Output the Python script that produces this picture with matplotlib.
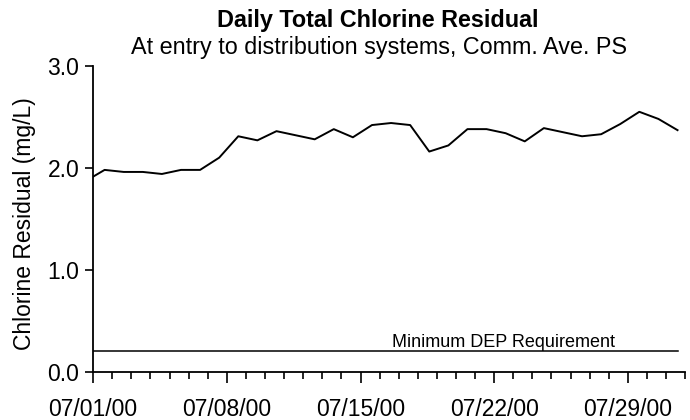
import matplotlib.pyplot as plt
import matplotlib.ticker as mticker

plt.rcParams['font.family'] = ['Liberation Sans', 'DejaVu Sans']

# daily total chlorine residual, 06/30/00 .. 07/31/00 (mg/L)
day = list(range(-1, 31))  # days after 07/01/00
residual = [1.87, 1.98, 1.96, 1.96, 1.94, 1.98, 1.98, 2.10, 2.31, 2.27,
            2.36, 2.32, 2.28, 2.38, 2.30, 2.42, 2.44, 2.42, 2.16, 2.22,
            2.38, 2.38, 2.34, 2.26, 2.39, 2.35, 2.31, 2.33, 2.43, 2.55,
            2.48, 2.37]
min_dep = 0.2
tick_days = [0, 7, 14, 21, 28]
tick_labels = ['07/01/00', '07/08/00', '07/15/00', '07/22/00', '07/29/00']

fig = plt.figure(figsize=(6.9, 4.2), dpi=100)
ax = fig.add_axes([0.135, 0.115, 0.858, 0.728])

# points sit between the day ticks
x = [d + 0.6 for d in day]
ax.plot(x, residual, color='black', lw=1.4)
ax.plot([0, 30.6], [min_dep, min_dep], color='black', lw=1.1)
ax.text(21.5, 0.29, 'Minimum DEP Requirement', ha='center', va='center', fontsize=13)

ax.set_xlim(0, 31)
ax.set_ylim(0, 3)
ax.set_xticks(tick_days)
ax.set_xticklabels(tick_labels)
ax.xaxis.set_minor_locator(mticker.MultipleLocator(1))
ax.set_yticks([0, 1, 2, 3])
ax.yaxis.set_major_formatter(mticker.FormatStrFormatter('%.1f'))
ax.tick_params(axis='both', labelsize=16.5, direction='out', width=1.2)
ax.tick_params(axis='x', which='major', length=8, pad=11)
ax.tick_params(axis='x', which='minor', length=5, width=1.2)
ax.tick_params(axis='y', length=6, pad=4)
for s in ['top', 'right']:
    ax.spines[s].set_visible(False)
for s in ['left', 'bottom']:
    ax.spines[s].set_linewidth(1.3)

ax.set_ylabel('Chlorine Residual (mg/L)', fontsize=16.5)
ax.yaxis.set_label_coords(-0.097, 0.484)
fig.text(0.548, 0.952, 'Daily Total Chlorine Residual', ha='center', va='center',
         fontsize=16.8, fontweight='bold')
fig.text(0.549, 0.886, 'At entry to distribution systems, Comm. Ave. PS', ha='center',
         va='center', fontsize=16.8)

fig.savefig('out.png', dpi=100)
